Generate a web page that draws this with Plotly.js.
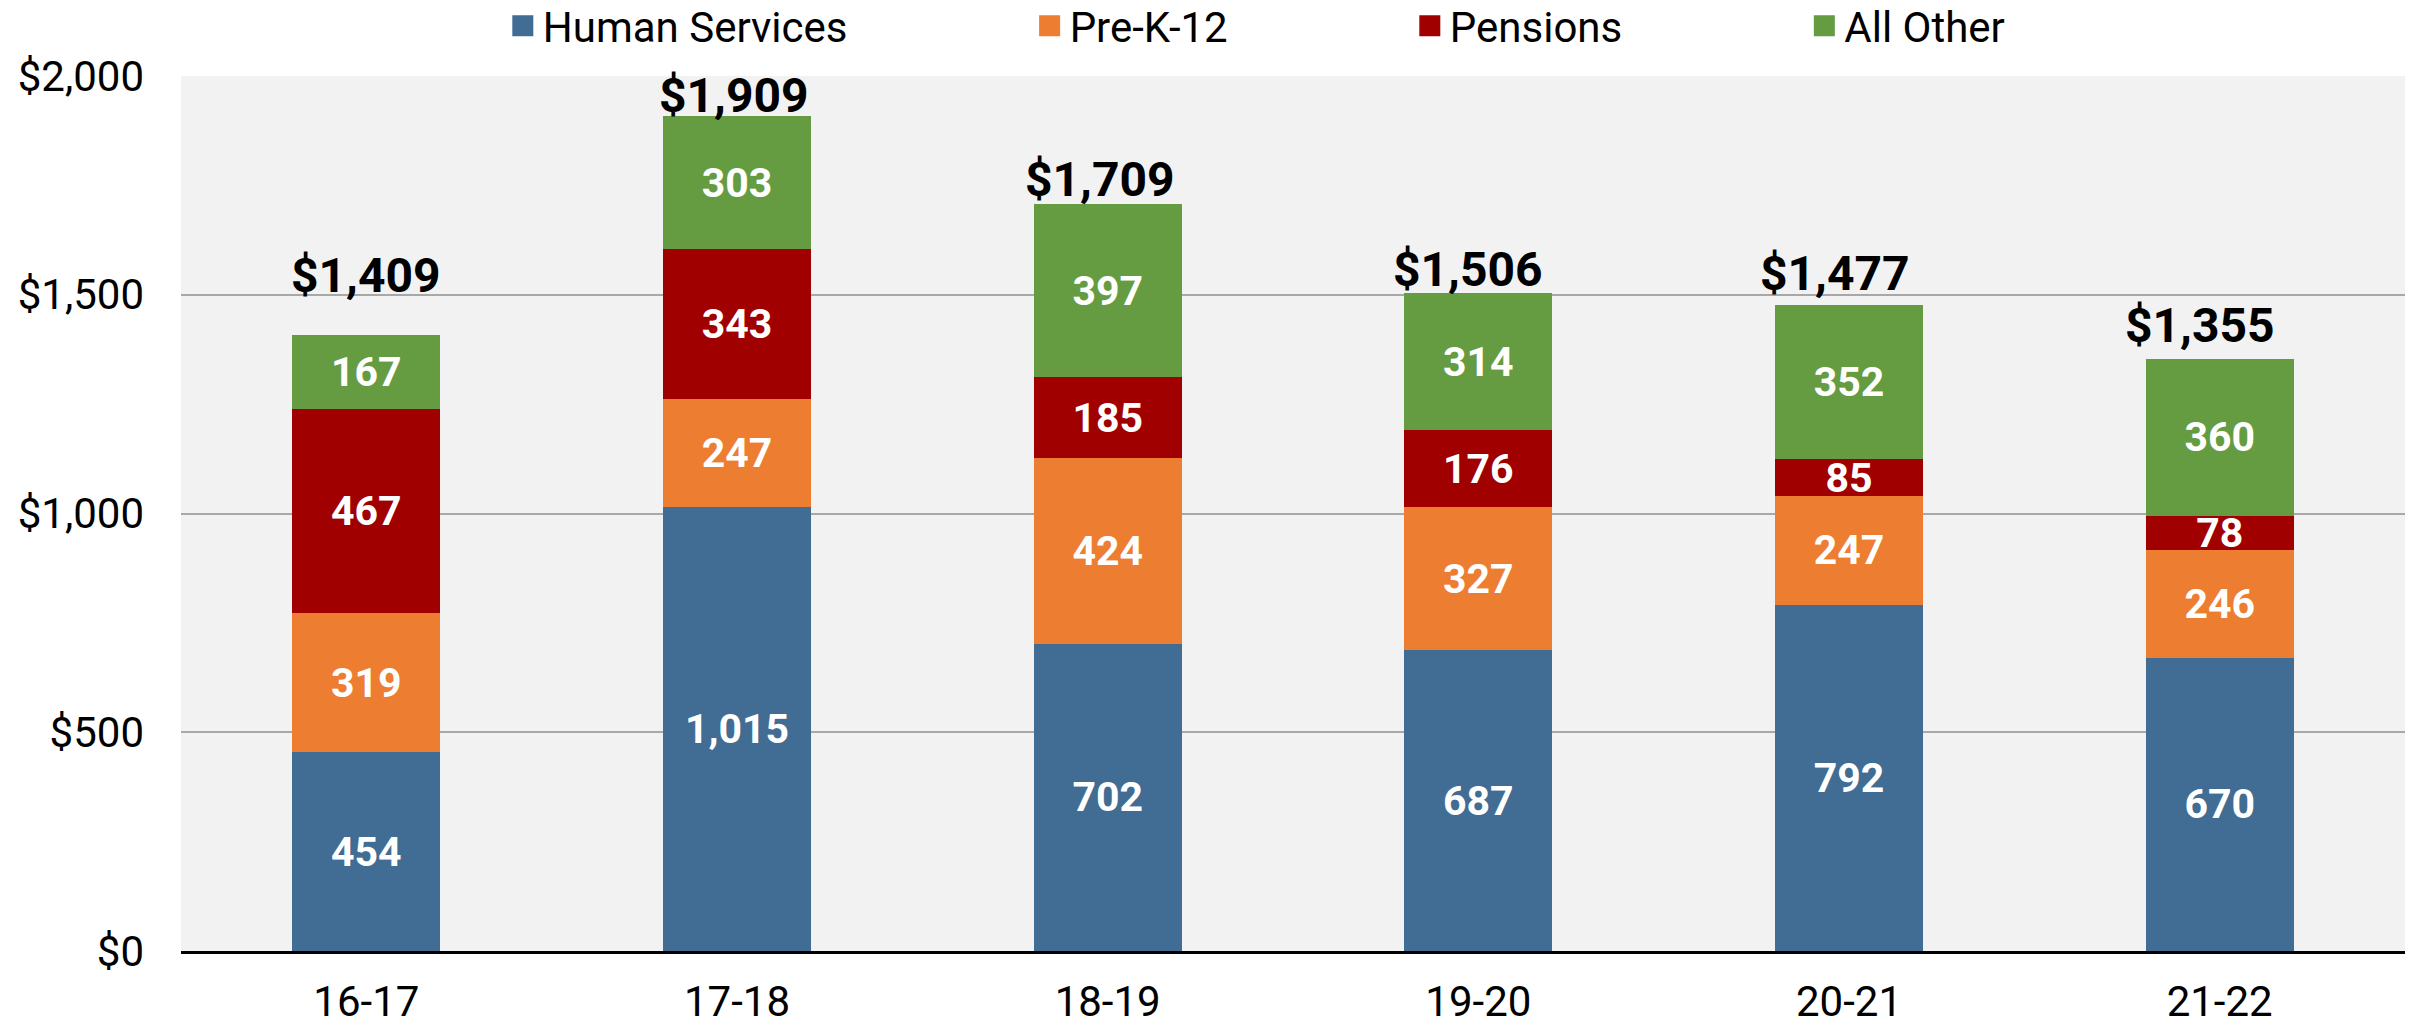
<!DOCTYPE html>
<html>
<head>
<meta charset="utf-8">
<script src="https://cdn.plot.ly/plotly-3.0.1.min.js"></script>
<style>
html, body { margin: 0; padding: 0; background: #ffffff; }
#chart { width: 2417px; height: 1026px; }
</style>
</head>
<body>
<div id="chart"></div>
<script>
// ---- Data ----
const categories = ['16-17', '17-18', '18-19', '19-20', '20-21', '21-22'];
const humanServices = [454, 1015, 702, 687, 792, 670];
const preK12 = [319, 247, 424, 327, 247, 246];
const pensions = [467, 343, 185, 176, 85, 78];
const allOther = [167, 303, 397, 314, 352, 360];
const totals = [1409, 1909, 1709, 1506, 1477, 1355];
const yTickVals = [0, 500, 1000, 1500, 2000];
const yTickText = ['$0', '$500', '$1,000', '$1,500', '$2,000'];
const seriesNames = ['Human Services', 'Pre-K-12', 'Pensions', 'All Other'];

// ---- Styles ----
const colors = ['#416C93', '#ED7D31', '#A00000', '#669C41'];
const FONT = 'Roboto, "Open Sans", sans-serif';
const PAD = '\u00A0'.repeat(17);
const totalYShift = [29, -10, -7, -8, 1, 2];
const totalXShift = [0, -3, -8, -10, -14, -20];

const seriesValues = [humanServices, preK12, pensions, allOther];

const barTraces = seriesValues.map((vals, i) => ({
  type: 'bar',
  name: seriesNames[i],
  legendgroup: seriesNames[i],
  showlegend: false,
  x: categories,
  y: vals,
  marker: { color: colors[i], line: { width: 0 } },
  texttemplate: '%{y:,.0f}',
  textposition: 'inside',
  insidetextanchor: 'middle',
  constraintext: 'none',
  textangle: 0,
  textfont: { family: FONT, size: 41, color: '#ffffff', weight: 700 },
  hoverinfo: 'skip'
}));

// legend entries (square swatches, no drawn data)
const legendTraces = seriesNames.map((n, i) => ({
  type: 'scatter',
  mode: 'markers',
  name: n + (i < seriesNames.length - 1 ? PAD : ''),
  legendgroup: n,
  x: [null],
  y: [null],
  marker: { symbol: 'square', size: 16, color: colors[i], line: { width: 5, color: colors[i] } },
  hoverinfo: 'skip'
}));

const fmt = v => '$' + v.toLocaleString('en-US');

const annotations = categories.map((c, i) => ({
  x: c,
  y: totals[i],
  xref: 'x',
  yref: 'y',
  text: fmt(totals[i]),
  showarrow: false,
  xanchor: 'center',
  yanchor: 'bottom',
  yshift: totalYShift[i],
  xshift: totalXShift[i],
  font: { family: FONT, size: 48, color: '#000000', weight: 700 }
}));

const layout = {
  width: 2417,
  height: 1026,
  margin: { l: 181, r: 12, t: 76, b: 75, pad: 0, autoexpand: false },
  paper_bgcolor: '#ffffff',
  plot_bgcolor: '#F2F2F2',
  barmode: 'stack',
  bargap: 0.6,
  font: { family: FONT, size: 42, color: '#000000' },
  xaxis: {
    type: 'category',
    categoryorder: 'array',
    categoryarray: categories,
    showline: true,
    linecolor: '#000000',
    linewidth: 3,
    ticks: '',
    showgrid: false,
    zeroline: false,
    ticklabelstandoff: 12,
    tickfont: { family: FONT, size: 42, color: '#000000' }
  },
  yaxis: {
    range: [0, 2000],
    tickvals: yTickVals,
    ticktext: yTickText,
    showgrid: true,
    gridcolor: '#A8A8A8',
    gridwidth: 2,
    zeroline: false,
    showline: false,
    ticks: '',
    ticklabelstandoff: 36,
    tickfont: { family: FONT, size: 42, color: '#000000' }
  },
  showlegend: true,
  legend: {
    orientation: 'h',
    x: 0.1447,
    xanchor: 'left',
    y: 1.0571,
    yanchor: 'middle',
    traceorder: 'normal',
    itemwidth: 30,
    itemclick: false,
    bgcolor: 'rgba(0,0,0,0)',
    font: { family: FONT, size: 42, color: '#000000' }
  },
  annotations: annotations
};

Plotly.newPlot('chart', barTraces.concat(legendTraces), layout, { displayModeBar: false, staticPlot: true });
</script>
</body>
</html>
